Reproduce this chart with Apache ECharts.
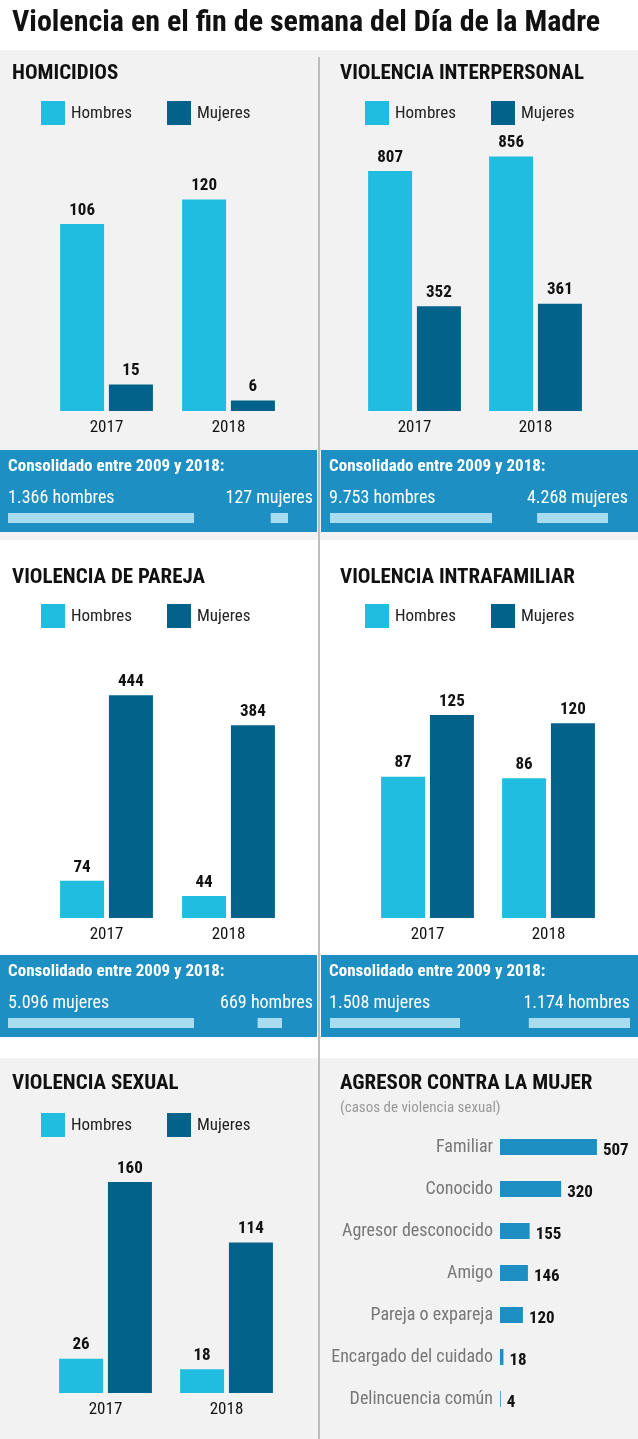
<!DOCTYPE html>
<html><head><meta charset="utf-8">
<script src="https://cdn.jsdelivr.net/npm/echarts@6/dist/echarts.min.js"></script>
<style>html,body{margin:0;padding:0;background:#fff}#c{width:638px;height:1439px}</style>
</head><body><div id="c"></div>
<script>
const years = ['2017', '2018'];
const homHombres = [106, 120], homMujeres = [15, 6];
const intHombres = [807, 856], intMujeres = [352, 361];
const parHombres = [74, 44], parMujeres = [444, 384];
const famHombres = [87, 86], famMujeres = [125, 120];
const sexHombres = [26, 18], sexMujeres = [160, 114];
const agresorCats = ['Familiar', 'Conocido', 'Agresor desconocido', 'Amigo', 'Pareja o expareja', 'Encargado del cuidado', 'Delincuencia común'];
const agresorVals = [507, 320, 155, 146, 120, 18, 4];
const consHom = [1366, 127], consInt = [9753, 4268], consPar = [5096, 669], consFam = [1508, 1174];
const consLabels = [['hombres', 'mujeres'], ['hombres', 'mujeres'], ['mujeres', 'hombres'], ['mujeres', 'hombres']];

const F = '"Liberation Sans Narrow","Roboto Condensed",Roboto,sans-serif';
const C1 = '#21bde0', C2 = '#02628a', BOX = '#1e8fc2', BAR = '#a8dcee';
const fmt = n => String(n).replace(/\B(?=(\d{3})+(?!\d))/g, '.');

const grids = [], xAxes = [], yAxes = [], series = [], graphic = [];
graphic.push({type:'rect', shape:{x:0,y:50,width:638,height:490}, style:{fill:'#f2f2f2'}, z:-10});
graphic.push({type:'rect', shape:{x:0,y:1058,width:638,height:381}, style:{fill:'#f2f2f2'}, z:-10});
graphic.push({type:'text', left:12, top:8, style:{text:'Violencia en el fin de semana del Día de la Madre', font:'bold 30px '+F, fill:'#111'}});
graphic.push({type:'line', shape:{x1:319,y1:57,x2:319,y2:1439}, style:{stroke:'#bdbdbd', lineWidth:2}, z:5});

function panelHeader(x, y, title) {
  graphic.push({type:'text', left:x, top:y, style:{text:title, font:'bold 21px '+F, fill:'#111'}});
}
function legend(x, y) {
  graphic.push({type:'rect', shape:{x:x+29,y:y,width:24,height:24}, style:{fill:C1}});
  graphic.push({type:'text', left:x+59, top:y+4, style:{text:'Hombres', font:'17px '+F, fill:'#222'}});
  graphic.push({type:'rect', shape:{x:x+155,y:y,width:24,height:24}, style:{fill:C2}});
  graphic.push({type:'text', left:x+185, top:y+4, style:{text:'Mujeres', font:'17px '+F, fill:'#222'}});
}
function barChart(left, width, top, bottomY, max, h, m) {
  const gi = grids.length;
  grids.push({left:left, top:top, width:width, height:bottomY-top});
  xAxes.push({gridIndex:gi, type:'category', data:years, axisLine:{show:false}, axisTick:{show:false},
    axisLabel:{color:'#111', fontSize:17, fontFamily:F, margin:8}});
  yAxes.push({gridIndex:gi, type:'value', min:0, max:max, show:false, splitLine:{show:false}});
  const lab = {show:true, position:'top', color:'#111', fontSize:17, fontWeight:'bold', fontFamily:F, distance:5};
  series.push({type:'bar', xAxisIndex:gi, yAxisIndex:gi, data:h, barWidth:44, barGap:'11%', itemStyle:{color:C1}, label:lab});
  series.push({type:'bar', xAxisIndex:gi, yAxisIndex:gi, data:m, barWidth:44, barGap:'11%', itemStyle:{color:C2}, label:lab});
}
function consBox(x0, y0, bx, bw, max, vals, labs, textRight) {
  graphic.push({type:'rect', shape:{x:x0, y:y0, width:317, height:82}, style:{fill:BOX}, z:-5});
  graphic.push({type:'text', left:x0+8, top:y0+8, style:{text:'Consolidado entre 2009 y 2018:', font:'bold 17px '+F, fill:'#fff'}});
  graphic.push({type:'text', left:x0+8, top:y0+39, style:{text:fmt(vals[0])+' '+labs[0], font:'18px '+F, fill:'#fff'}});
  graphic.push({type:'text', right:638-textRight, top:y0+39, style:{text:fmt(vals[1])+' '+labs[1], font:'18px '+F, fill:'#fff'}});
  [false, true].forEach((inv, k) => {
    const gi = grids.length;
    grids.push({left:x0+bx, top:y0+63, width:bw, height:10});
    xAxes.push({gridIndex:gi, type:'value', min:0, max:max, inverse:inv, show:false});
    yAxes.push({gridIndex:gi, type:'category', data:['a'], show:false});
    series.push({type:'bar', xAxisIndex:gi, yAxisIndex:gi, data:[vals[k]], barWidth:10, itemStyle:{color:BAR}, silent:true});
  });
}

panelHeader(12, 63, 'HOMICIDIOS'); legend(12, 101);
barChart(45.5, 244, 150, 411, 148, homHombres, homMujeres);
panelHeader(340, 63, 'VIOLENCIA INTERPERSONAL'); legend(336, 101);
barChart(354, 242, 150, 411, 877.6, intHombres, intMujeres);
consBox(0, 450, 8, 280, 2056, consHom, consLabels[0], 313);
consBox(321, 450, 9, 278, 16737, consInt, consLabels[1], 628);

panelHeader(12, 567, 'VIOLENCIA DE PAREJA'); legend(12, 604);
barChart(45.5, 244, 660, 918, 514, parHombres, parMujeres);
panelHeader(340, 567, 'VIOLENCIA INTRAFAMILIAR'); legend(336, 604);
barChart(367, 242, 660, 918, 158.9, famHombres, famMujeres);
consBox(0, 955, 8, 274, 7507, consPar, consLabels[2], 313);
consBox(321, 955, 9, 300, 3480, consFam, consLabels[3], 630);

panelHeader(12, 1073, 'VIOLENCIA SEXUAL'); legend(12, 1113);
barChart(45, 242, 1150, 1393, 184.2, sexHombres, sexMujeres);
panelHeader(340, 1073, 'AGRESOR CONTRA LA MUJER');
graphic.push({type:'text', left:340, top:1101, style:{text:'(casos de violencia sexual)', font:'15px '+F, fill:'#999'}});
{
  const gi = grids.length;
  grids.push({left:500, top:1126, width:130, height:294});
  xAxes.push({gridIndex:gi, type:'value', min:0, max:680, show:false});
  yAxes.push({gridIndex:gi, type:'category', data:agresorCats, inverse:true, axisLine:{show:false}, axisTick:{show:false},
    axisLabel:{color:'#777', fontSize:18, fontFamily:F, margin:7, verticalAlign:'middle'}});
  series.push({type:'bar', xAxisIndex:gi, yAxisIndex:gi, data:agresorVals, barWidth:16, itemStyle:{color:BOX},
    label:{show:true, position:'right', distance:6, offset:[0,4], color:'#111', fontSize:17, fontWeight:'bold', fontFamily:F}});
}

const chart = echarts.init(document.getElementById('c'), null, {renderer:'canvas'});
chart.setOption({animation:false, backgroundColor:'#fff', grid:grids, xAxis:xAxes, yAxis:yAxes, series:series, graphic:graphic});
</script></body></html>
